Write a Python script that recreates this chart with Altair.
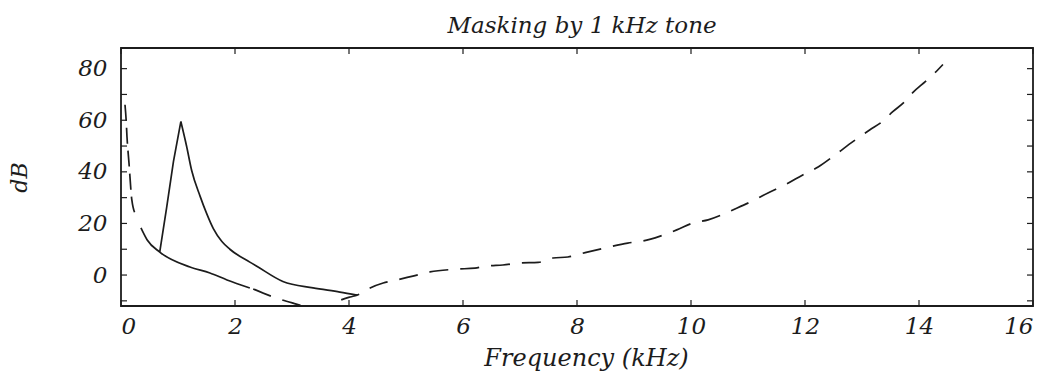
import altair as alt
import pandas as pd

# Threshold in quiet (kHz, dB)
quiet_f = [0.07, 0.09, 0.105, 0.14, 0.19, 0.26, 0.30, 0.35, 0.46, 0.68, 1.21, 1.56, 1.86, 2.26,
           2.32, 2.67, 3.02, 3.25, 3.45, 3.65, 3.75, 4.02, 4.14, 4.37, 4.60, 4.84, 5.12, 5.42,
           5.89, 6.21, 6.42, 6.70, 7.00, 7.32, 7.58, 7.84, 8.18, 8.49, 8.89, 9.16, 9.46, 9.75,
           10.04, 10.30, 10.81, 11.04, 11.35, 11.68, 11.96, 12.23, 12.53, 12.84, 13.14, 13.35,
           13.54, 13.75, 13.89, 14.11, 14.28, 14.42]
quiet_db = [66.0, 60.2, 53.6, 43.5, 29.1, 23.3, 20.8, 18.3, 13.6, 8.9, 3.1, 0.8, -1.9, -5.0,
            -5.4, -8.5, -10.9, -12.3, -13.0, -12.2, -10.8, -8.5, -7.8, -5.0, -3.1, -1.9, -0.4, 1.2,
            2.3, 2.7, 3.5, 3.9, 4.7, 4.9, 6.6, 7.0, 8.9, 10.5, 12.4, 13.2, 15.1, 17.5,
            20.2, 21.4, 26.0, 28.3, 31.8, 35.3, 38.8, 41.9, 46.6, 51.7, 56.3, 59.4,
            63.3, 67.2, 70.7, 75.0, 78.4, 81.6]

# Masking curve of the 1 kHz tone: rising flank and falling flank (sharing the peak)
rise_f = [0.68, 0.80, 0.92, 1.05]
rise_db = [9.0, 26.0, 44.0, 59.5]
fall_f = [1.05, 1.15, 1.24, 1.39, 1.50, 1.62, 1.77, 1.91, 2.26, 2.39, 2.84, 3.37, 3.84, 4.14]
fall_db = [59.5, 50.0, 40.5, 30.4, 24.0, 18.0, 13.0, 10.0, 5.0, 3.3, -2.5, -5.0, -6.6, -7.8]

x_ticks = [0, 2, 4, 6, 8, 10, 12, 14, 16]
y_labels = [0, 20, 40, 60, 80]
y_ticks = [-10, 0, 10, 20, 30, 40, 50, 60, 70, 80]

W, H = 912, 258
INK = "#1c1c1c"
FONT = "DejaVu Serif"

quiet = pd.DataFrame({"f": quiet_f, "dB": quiet_db})
rise = pd.DataFrame({"f": rise_f, "dB": rise_db})
fall = pd.DataFrame({"f": fall_f, "dB": fall_db})
xt = pd.DataFrame({"f": x_ticks})
yt = pd.DataFrame({"dB": y_ticks})

xs = alt.Scale(domain=[0, 16], nice=False, zero=False)
ys = alt.Scale(domain=[-12, 88], nice=False, zero=False)

x_axis = alt.Axis(values=x_ticks, title="Frequency (kHz)", domain=False, ticks=False, grid=False,
                  labelFont=FONT, labelFontStyle="italic", labelFontSize=23, labelColor=INK,
                  labelPadding=9, titleFont=FONT, titleFontStyle="italic", titleFontWeight="normal",
                  titleFontSize=24, titleColor=INK, titlePadding=8, titleX=W / 2 + 9)
y_axis = alt.Axis(values=y_labels, title="dB", domain=False, ticks=False, grid=False,
                  labelFont=FONT, labelFontStyle="italic", labelFontSize=23, labelColor=INK,
                  labelPadding=14, titleFont=FONT, titleFontStyle="italic", titleFontWeight="normal",
                  titleFontSize=22, titleColor=INK, titlePadding=46)

X = alt.X("f:Q", scale=xs, axis=x_axis)
Y = alt.Y("dB:Q", scale=ys, axis=y_axis)

dash_a = alt.Chart(quiet).transform_filter("datum.f <= 0.27").mark_line(
    color=INK, strokeWidth=1.7, strokeDash=[16, 7], clip=True, interpolate="monotone").encode(x=X, y=Y)
solid_q = alt.Chart(quiet).transform_filter("datum.f >= 0.35 && datum.f <= 2.3").mark_line(
    color=INK, strokeWidth=1.7, clip=True, interpolate="monotone").encode(x=X, y=Y)
dash_b = alt.Chart(quiet).transform_filter("datum.f >= 2.3").mark_line(
    color=INK, strokeWidth=1.7, strokeDash=[19, 12], clip=True, interpolate="monotone").encode(x=X, y=Y)
rise_line = alt.Chart(rise).mark_line(color=INK, strokeWidth=1.7, clip=True).encode(x=X, y=Y)
fall_line = alt.Chart(fall).mark_line(color=INK, strokeWidth=1.7, clip=True,
                                      interpolate="monotone").encode(x=X, y=Y)

left_t = alt.Chart(yt).mark_rule(color=INK, strokeWidth=1.2).encode(
    y=Y, x=alt.value(0), x2=alt.value(6))
right_t = alt.Chart(yt).mark_rule(color=INK, strokeWidth=1.2).encode(
    y=Y, x=alt.value(W - 6), x2=alt.value(W))
bottom_t = alt.Chart(xt).mark_rule(color=INK, strokeWidth=1.2).encode(
    x=X, y=alt.value(H - 6), y2=alt.value(H))
top_t = alt.Chart(xt).mark_rule(color=INK, strokeWidth=1.2).encode(
    x=X, y=alt.value(0), y2=alt.value(6))

chart = alt.layer(dash_a, solid_q, dash_b, rise_line, fall_line,
                  left_t, right_t, bottom_t, top_t).properties(
    width=W, height=H,
    background="white",
    title=alt.TitleParams("Masking by 1 kHz tone", font=FONT, fontStyle="italic", fontWeight="normal",
                          fontSize=23, color=INK, offset=9, anchor="middle", dx=5),
    autosize=alt.AutoSizeParams(type="none"),
    padding={"left": 113, "top": 40, "right": 14, "bottom": 68},
).configure_view(stroke=INK, strokeWidth=1.8)

chart.save("out.html", embed_options={"renderer": "svg", "actions": False})
